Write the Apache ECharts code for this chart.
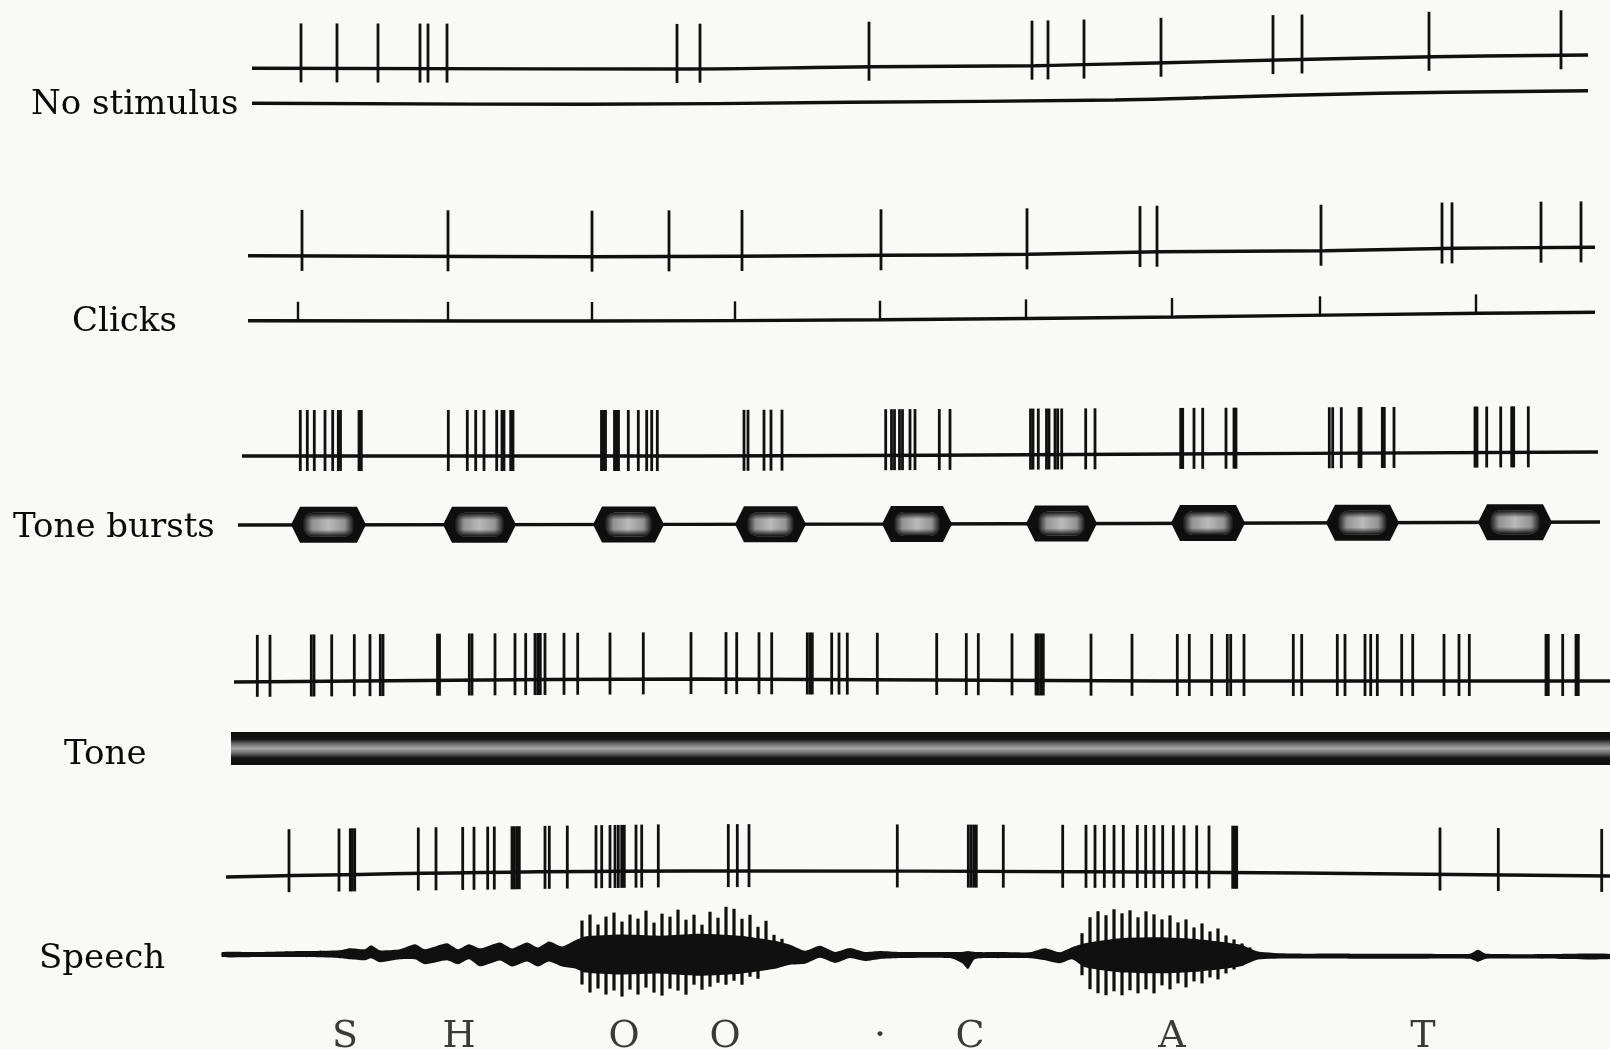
<!DOCTYPE html>
<html><head><meta charset="utf-8">
<script src="https://cdn.jsdelivr.net/npm/echarts@6/dist/echarts.min.js"></script>
<style>html,body{margin:0;padding:0;background:#f9f9f8}#c{width:1610px;height:1049px}</style>
</head><body><div id="c"></div><script>
// ---- data (time axis in arbitrary units) ----
const rowLabels = ['No stimulus', 'Clicks', 'Tone bursts', 'Tone', 'Speech'];

const spikesNoStim = [301,337,378,420,428,447,677,700,869,1032,1048,1084,1161,1273,1302,1429,1561];
const spikesClicks = [302,448,592,669,742,881,1027,1140,1157,1321,1442,1452,1541,1581];
const clickTimes = [298,448,592,735,880,1026,1172,1320,1476];

const spikesBursts = [300.3,307.3,314.3,325,332.7,338.3,340.5,359,361.3,
  448.3,467.3,475.7,484,496.7,502,504,510.7,513,
  601.5,603.5,605.5,614.5,616.5,618.5,628.3,638.3,646.7,651.7,657.3,
  744,748,764,771,782,
  885.7,891.5,894.5,899.5,902.5,910,915,939.3,950,
  1030.5,1033,1038.3,1046.5,1049,1055,1057.7,1061.7,1085.7,1095,
  1180.7,1182.7,1194,1202.7,1226,1234,1236,
  1329.3,1332.7,1341.3,1359,1361,1382.3,1384.3,1394,
  1475,1477,1486.7,1500.7,1511.7,1513.7,1528.3];
const burstStart = [291,443,593,735,882,1026,1171,1326,1478];
const burstEnd   = [366,516,664,806,952,1097,1245,1399,1552];

const spikesTone = [257.3,270,311.3,314,331.7,354.3,370,380.3,383,437.5,439.5,469.3,472,495,515,525.7,535,537.7,540.3,545,564,577.7,610,643.3,691,
  726,736.7,759,771.7,807.3,810,812.3,831.7,839,847.3,877.3,936.7,966.3,978.3,1012,1036,1038.3,1040.7,1043.3,1091,1132,
  1177.3,1189.3,1211.7,1227.3,1230.7,1244,1293.3,1301.7,1337.3,1345,1365,1370.7,1377.3,1401.7,1412.7,1444,1459,1469.3,1546,1548.3,1562.7,1576,1578.3];
const toneStart = [231], toneEnd = [1610];

const spikesSpeech = [289,339,350.3,352.3,354.7,418.3,436,462.7,474,487.7,494.3,512,514.3,516.7,519.3,545,549.3,567.3,
  596,601.7,610,615,618.3,621.7,624.3,636,641.7,658.3,728.3,737.3,749,897.3,968.3,971,973.7,976.3,1003.3,
  1062.7,1086,1095,1104.3,1114,1123.3,1137.3,1145.7,1154,1162.7,1173.3,1184,1196.7,1209,1232.7,1234.7,1236.7,1440,1498.3,1601.7];

// trace drift (baseline level vs time) for each recorded line
const drift1X = [252,672,872,1035,1165,1278,1434,1588], drift1Y = [68.3,69,66.7,65.7,62.7,60,56.7,55];
const driftNsX = [252,584,849,1115,1203,1380,1588], driftNsY = [103.3,104.3,102.3,100,97.7,93.3,90.7];
const drift2X = [248,593,883,1029,1159,1325,1456,1595], drift2Y = [255.7,256.7,255.3,254.3,251.7,250.7,248.3,247.3];
const driftClX = [248,593,881,1175,1480,1595], driftClY = [320.7,321,319.7,317,313.3,312.3];
const drift3X = [242,700,1170,1598], drift3Y = [456,456,454,452];
const driftTbX = [238,900,1600], driftTbY = [525,524,522];
const drift4X = [234,700,1160,1610], drift4Y = [682,679,681,681];
const drift5X = [226,690,1150,1610], drift5Y = [877,871,872,876];

// speech oscillogram: envelope (up / down excursion) and voiced pulses
const envX    = [222,260,300,340,350,365,371,380,400,415,425,447,458,469,480,500,512,527,538,549,562,575,585,620,660,700,740,775,790,805,820,835,850,865,880,900,950,962,968,975,1000,1030,1045,1060,1072,1085,1120,1160,1200,1240,1258,1290,1350,1420,1470,1478,1486,1560,1610];
const envUp   = [2,2,3,4,6,5,9,4,5,10,5,11,5,10,6,12,6,12,7,13,8,14,18,20,19,21,19,14,10,4,9,3,7,3,4,3,3,3,4,3,3,3,7,3,8,12,17,18,16,11,4,2,2,2,2,6,2,2,2];
const envDown = [3,3,3,4,5,6,4,8,5,5,10,6,10,5,12,6,12,7,12,7,12,14,18,20,19,21,19,14,10,9,3,8,3,6,4,3,3,8,14,4,3,3,5,8,4,12,17,18,16,11,4,3,3,3,3,6,3,3,3];
const pulseX = [582,590,598,606,614,622,630,638,646,654,662,670,678,686,694,702,710,718,726,734,742,750,758,766,774,782,790,
  1082,1090,1098,1106,1114,1122,1130,1138,1146,1154,1162,1170,1178,1186,1194,1202,1210,1218,1226,1234,1242,1250];
const pulseUp = [34,40,30,38,42,33,40,36,44,32,41,38,45,35,40,30,43,37,48,46,36,40,28,34,20,16,8,
  22,38,44,40,46,42,45,38,44,41,36,40,33,36,28,32,24,27,20,16,12,8];
const pulseDown = [30,38,34,40,36,42,35,40,33,38,41,34,36,40,30,35,32,28,30,26,30,22,24,14,12,8,6,
  20,34,38,40,36,40,35,38,34,38,30,34,28,32,26,28,22,24,18,14,10,6];
const speechLetters = ['S','H','O','O','\u00b7','C','A','T'];
const letterTimes = [345,459,624,725,880,970,1172,1423];

// ---- helpers ----
function interp(xs, ys, x){
  if (x <= xs[0]) return ys[0];
  for (let i = 1; i < xs.length; i++) if (x <= xs[i]) { const f = (x - xs[i-1]) / (xs[i] - xs[i-1]); return ys[i-1] + f * (ys[i] - ys[i-1]); }
  return ys[ys.length-1];
}
const INK = '#101010';
const SPEECH_CX = [222,1610], SPEECH_CY = [954,956];
function speechCenter(x){ return interp(SPEECH_CX, SPEECH_CY, x); }

function traceLine(xs, ys){
  return {type:'line', data: xs.map((x,i)=>[x, ys[i]]), smooth:0.4, symbol:'none', silent:true,
    lineStyle:{color:INK, width:3.4}, z:2};
}
function spikeSeries(times, dx, dy, up, down, w){
  return {type:'custom', data: times.map(t=>[t,0]), encode:{x:0,y:1}, silent:true, z:3,
    renderItem:(p, api)=>{
      const t = api.value(0), yb = interp(dx, dy, t);
      const a = api.coord([t, yb-up]), b = api.coord([t, yb+down]);
      return {type:'line', shape:{x1:a[0],y1:a[1],x2:b[0],y2:b[1]}, style:{stroke:INK, lineWidth:w||2.8}};
    }};
}

const series = [
  traceLine(drift1X, drift1Y), traceLine(driftNsX, driftNsY),
  traceLine(drift2X, drift2Y), traceLine(driftClX, driftClY),
  traceLine(drift3X, drift3Y), traceLine(driftTbX, driftTbY),
  traceLine(drift4X, drift4Y), traceLine(drift5X, drift5Y),
  spikeSeries(spikesNoStim, drift1X, drift1Y, 45, 14),
  spikeSeries(spikesClicks, drift2X, drift2Y, 46, 15),
  spikeSeries(clickTimes, driftClX, driftClY, 19, 0, 2.4),
  spikeSeries(spikesBursts, drift3X, drift3Y, 46, 15),
  spikeSeries(spikesTone, drift4X, drift4Y, 47, 15),
  spikeSeries(spikesSpeech, drift5X, drift5Y, 47, 16),
  // tone bursts
  {type:'custom', data: burstStart.map((s,i)=>[s, burstEnd[i]]), encode:{x:[0,1]}, silent:true, z:4,
    renderItem:(p, api)=>{
      const s = api.value(0), e = api.value(1), yc = interp(driftTbX, driftTbY, (s+e)/2);
      const pts = [[s,yc],[s+9,yc-18],[e-9,yc-18],[e,yc],[e-9,yc+18],[s+9,yc+18]].map(q=>api.coord(q));
      const c1 = api.coord([s+12, yc-12]), c2 = api.coord([e-12, yc+12]);
      const rs = {x:c1[0], y:c1[1], width:c2[0]-c1[0], height:c2[1]-c1[1], r:10};
      return {type:'group', children:[
        {type:'polygon', shape:{points:pts}, style:{fill:'#0e0e0e'}},
        {type:'rect', shape:rs,
          style:{fill:new echarts.graphic.LinearGradient(0,0,1,0,[{offset:0,color:'#161616'},{offset:0.18,color:'#a9a9a9'},{offset:0.5,color:'#d8d8d8'},{offset:0.82,color:'#a9a9a9'},{offset:1,color:'#161616'}])}},
        {type:'rect', shape:rs,
          style:{fill:new echarts.graphic.LinearGradient(0,0,0,1,[{offset:0,color:'rgba(14,14,14,1)'},{offset:0.3,color:'rgba(14,14,14,0.15)'},{offset:0.7,color:'rgba(14,14,14,0.15)'},{offset:1,color:'rgba(14,14,14,1)'}])}}
      ]};
    }},
  // continuous tone
  {type:'custom', data: toneStart.map((s,i)=>[s, toneEnd[i]]), encode:{x:[0,1]}, silent:true, z:4,
    renderItem:(p, api)=>{
      const a = api.coord([api.value(0), 732]), b = api.coord([api.value(1), 765]);
      return {type:'rect', shape:{x:a[0], y:a[1], width:b[0]-a[0], height:b[1]-a[1]},
        style:{fill:new echarts.graphic.LinearGradient(0,0,0,1,[{offset:0,color:'#0c0c0c'},{offset:0.22,color:'#141414'},{offset:0.36,color:'#6a6a6a'},{offset:0.5,color:'#a6a6a6'},{offset:0.64,color:'#6a6a6a'},{offset:0.78,color:'#141414'},{offset:1,color:'#0c0c0c'}])}};
    }},
  // speech envelope
  {type:'custom', data:[[envX[0],0]], encode:{x:0,y:1}, silent:true, z:4,
    renderItem:(p, api)=>{
      const top = envX.map((x,i)=>api.coord([x, speechCenter(x)-envUp[i]]));
      const bot = envX.map((x,i)=>api.coord([x, speechCenter(x)+envDown[i]])).reverse();
      return {type:'polygon', shape:{points:top.concat(bot), smooth:0.2}, style:{fill:'#101010'}};
    }},
  // speech voiced pulses
  {type:'custom', data: pulseX.map((x,i)=>[x, pulseUp[i], pulseDown[i]]), encode:{x:0}, silent:true, z:5,
    renderItem:(p, api)=>{
      const x = api.value(0), yc = speechCenter(x);
      const a = api.coord([x, yc-api.value(1)]), b = api.coord([x, yc+api.value(2)]);
      return {type:'line', shape:{x1:a[0],y1:a[1],x2:b[0],y2:b[1]}, style:{stroke:'#101010', lineWidth:3.2}};
    }},
  // letters of the utterance
  {type:'scatter', data: letterTimes.map(t=>[t, 1037]), symbolSize:1, itemStyle:{color:'rgba(0,0,0,0)'}, silent:true, z:6,
    label:{show:true, position:'inside', formatter:(p)=>speechLetters[p.dataIndex], color:'#0a0a0a',
      fontFamily:'DejaVu Serif', fontSize:38}}
];

const labelPos = [[31,109],[72,326],[13,532],[64,759],[39,963]];
const chart = echarts.init(document.getElementById('c'), null, {renderer:'canvas'});
chart.setOption({
  backgroundColor:'#f9f9f8', animation:false,
  grid:{left:0,right:0,top:0,bottom:0},
  xAxis:{type:'value', min:0, max:1610, show:false},
  yAxis:{type:'value', min:0, max:1049, inverse:true, show:false},
  graphic: rowLabels.map((t,i)=>({type:'text', left:labelPos[i][0], top:labelPos[i][1]-21, silent:true,
    style:{text:t, fill:'#0a0a0a', font:'34px "DejaVu Serif"'}})),
  series
});
</script></body></html>
